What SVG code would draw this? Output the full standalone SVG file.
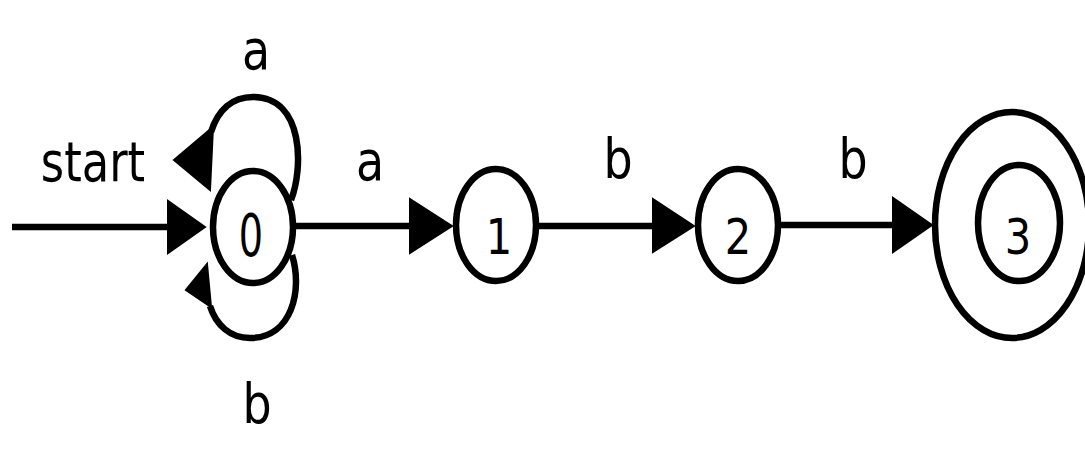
<svg xmlns="http://www.w3.org/2000/svg" width="1085" height="454" viewBox="0 0 1085 454">
  <style>
    .st { fill: none; stroke: #000; stroke-width: 6.5; }
    .ed { fill: none; stroke: #000; stroke-width: 6.5; }
    .ah { fill: #000; stroke: #000; stroke-width: 2; stroke-linejoin: miter; }
    .num { font-family: "DejaVu Sans", sans-serif; font-size: 49px; fill: #000; text-anchor: middle; }
    .lbl { font-family: "DejaVu Sans", sans-serif; font-size: 56px; fill: #000; text-anchor: middle; }
  </style>
  <rect width="1085" height="454" fill="#fff"/>
  <g id="connectors">
    <!-- start arrow -->
    <line class="ed" x1="12" y1="227" x2="172" y2="227"/>
    <polygon class="ah" points="205,227 168,201 168,253"/>
    <!-- self loop a -->
    <path class="ed" d="M 291,200 C 303,170 305,97 253,97 C 232,97 218,110 211,132"/>
    <polygon class="ah" points="174,160 213,127 210,190"/>
    <!-- self loop b -->
    <path class="ed" d="M 292,255 C 303,290 292,338 250,338 C 230,338 216,325 210,306"/>
    <polygon class="ah" points="186,290 207,264 211,307"/>
    <!-- 0 -> 1 -->
    <line class="ed" x1="294" y1="226" x2="412" y2="226"/>
    <polygon class="ah" points="452,226 410,199 410,253"/>
    <!-- 1 -> 2 -->
    <line class="ed" x1="537" y1="226" x2="655" y2="226"/>
    <polygon class="ah" points="694,226 653,199 653,252"/>
    <!-- 2 -> 3 -->
    <line class="ed" x1="779" y1="225" x2="895" y2="225"/>
    <polygon class="ah" points="932,225 893,198 893,252"/>
  </g>
  <g id="labels">
    <text class="lbl" transform="translate(256,69) scale(0.82,1)">a</text>
    <text class="lbl" transform="translate(93,181) scale(0.8,1)">start</text>
    <text class="lbl" transform="translate(257,423) scale(0.82,1)">b</text>
    <text class="lbl" transform="translate(370,180) scale(0.82,1)">a</text>
    <text class="lbl" transform="translate(618,178) scale(0.82,1)">b</text>
    <text class="lbl" transform="translate(853,178) scale(0.82,1)">b</text>
  </g>
  <g id="node0">
    <ellipse class="st" cx="253" cy="227" rx="40" ry="56"/>
    <text class="num" transform="translate(251,256) scale(0.78,1.18)">0</text>
  </g>
  <g id="node1">
    <ellipse class="st" cx="496" cy="225" rx="40" ry="56"/>
    <text class="num" transform="translate(499,254) scale(0.85,1.02)">1</text>
  </g>
  <g id="node2">
    <ellipse class="st" cx="738" cy="225" rx="40" ry="56"/>
    <text class="num" transform="translate(738,254) scale(0.85,1.02)">2</text>
  </g>
  <g id="node3">
    <ellipse class="st" cx="1012" cy="225" rx="77" ry="113"/>
    <ellipse class="st" cx="1019" cy="223" rx="41" ry="58"/>
    <text class="num" transform="translate(1018,254) scale(0.85,1.02)">3</text>
  </g>
</svg>
